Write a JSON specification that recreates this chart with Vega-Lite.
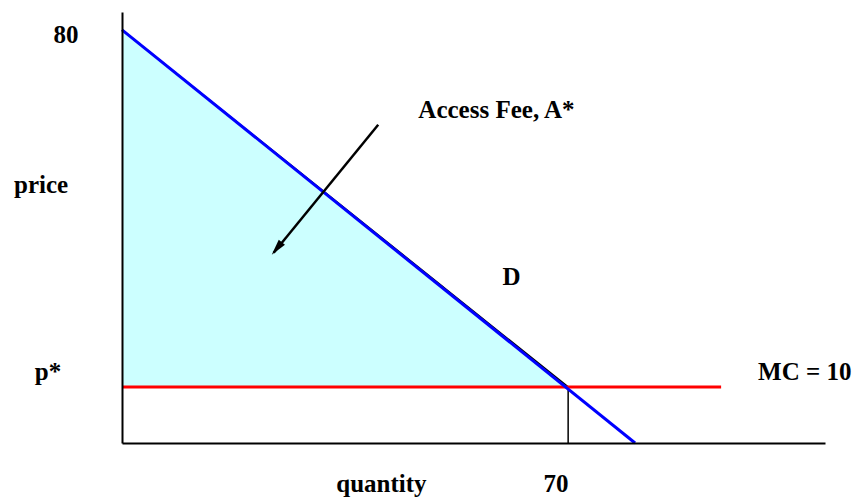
{
  "$schema": "https://vega.github.io/schema/vega-lite/v6.json",
  "width": 703,
  "height": 431,
  "autosize": {"type": "none"},
  "padding": {"left": 122, "top": 12, "right": 38, "bottom": 57},
  "background": "white",
  "config": {"view": {"stroke": null}},
  "layer": [
    {
      "data": {"values": [{"q": 0, "p": 80, "base": 10}, {"q": 70, "p": 10, "base": 10}]},
      "mark": {"type": "area", "color": "#CCFFFF", "opacity": 1},
      "encoding": {
        "x": {"field": "q", "type": "quantitative", "scale": {"domain": [0, 110.3], "nice": false, "zero": false},
              "axis": {"domainColor": "black", "domainWidth": 2, "ticks": false, "labels": false, "grid": false, "title": null, "zindex": 1}},
        "y": {"field": "p", "type": "quantitative", "scale": {"domain": [-1, 83.5], "nice": false, "zero": false},
              "axis": {"domainColor": "black", "domainWidth": 2, "ticks": false, "labels": false, "grid": false, "title": null, "zindex": 1}},
        "y2": {"field": "base"}
      }
    },
    {
      "data": {"values": [{"q": 0, "p": 80}, {"q": 70, "p": 10}]},
      "mark": {"type": "line", "color": "black", "strokeWidth": 1.5},
      "encoding": {"x": {"field": "q", "type": "quantitative"}, "y": {"field": "p", "type": "quantitative"}}
    },
    {
      "data": {"values": [{"q": 70, "p": 10}, {"q": 70, "p": -1}]},
      "mark": {"type": "line", "color": "black", "strokeWidth": 1.5},
      "encoding": {"x": {"field": "q", "type": "quantitative"}, "y": {"field": "p", "type": "quantitative"}}
    },
    {
      "data": {"values": [{"q": 0, "p": 10}, {"q": 94, "p": 10}]},
      "mark": {"type": "line", "color": "#FF0000", "strokeWidth": 3},
      "encoding": {"x": {"field": "q", "type": "quantitative"}, "y": {"field": "p", "type": "quantitative"}}
    },
    {
      "data": {"values": [{"q": 0, "p": 80}, {"q": 80.5, "p": -1}]},
      "mark": {"type": "line", "color": "#0000FF", "strokeWidth": 3},
      "encoding": {"x": {"field": "q", "type": "quantitative"}, "y": {"field": "p", "type": "quantitative"}}
    },
    {
      "data": {"values": [{"q": 40.2, "p": 61.4}, {"q": 23.8, "p": 36.3}]},
      "mark": {"type": "line", "color": "black", "strokeWidth": 2.5},
      "encoding": {"x": {"field": "q", "type": "quantitative"}, "y": {"field": "p", "type": "quantitative"}}
    },
    {
      "data": {"values": [{"q": 23.5, "p": 35.9}]},
      "mark": {"type": "point", "shape": "M0,0L-0.5,2L0.5,2Z", "size": 256, "angle": 219, "filled": true, "color": "black", "opacity": 1},
      "encoding": {"x": {"field": "q", "type": "quantitative"}, "y": {"field": "p", "type": "quantitative"}}
    },
    {
      "data": {"values": [
        {"label": "80", "q": -8.8, "p": 77.5},
        {"label": "price", "q": -12.7, "p": 48.0},
        {"label": "p*", "q": -11.6, "p": 11.4},
        {"label": "D", "q": 61.1, "p": 30.0},
        {"label": "quantity", "q": 40.7, "p": -10.6},
        {"label": "70", "q": 68.1, "p": -10.6}
      ]},
      "mark": {"type": "text", "font": "Liberation Serif", "fontWeight": "bold", "fontSize": 25, "baseline": "alphabetic", "align": "center", "color": "black"},
      "encoding": {
        "x": {"field": "q", "type": "quantitative"},
        "y": {"field": "p", "type": "quantitative"},
        "text": {"field": "label"}
      }
    },
    {
      "data": {"values": [
        {"label": "Access Fee, A*", "q": 46.5, "p": 62.7},
        {"label": "MC = 10", "q": 99.8, "p": 11.4}
      ]},
      "mark": {"type": "text", "font": "Liberation Serif", "fontWeight": "bold", "fontSize": 25, "baseline": "alphabetic", "align": "left", "color": "black"},
      "encoding": {
        "x": {"field": "q", "type": "quantitative"},
        "y": {"field": "p", "type": "quantitative"},
        "text": {"field": "label"}
      }
    }
  ]
}
